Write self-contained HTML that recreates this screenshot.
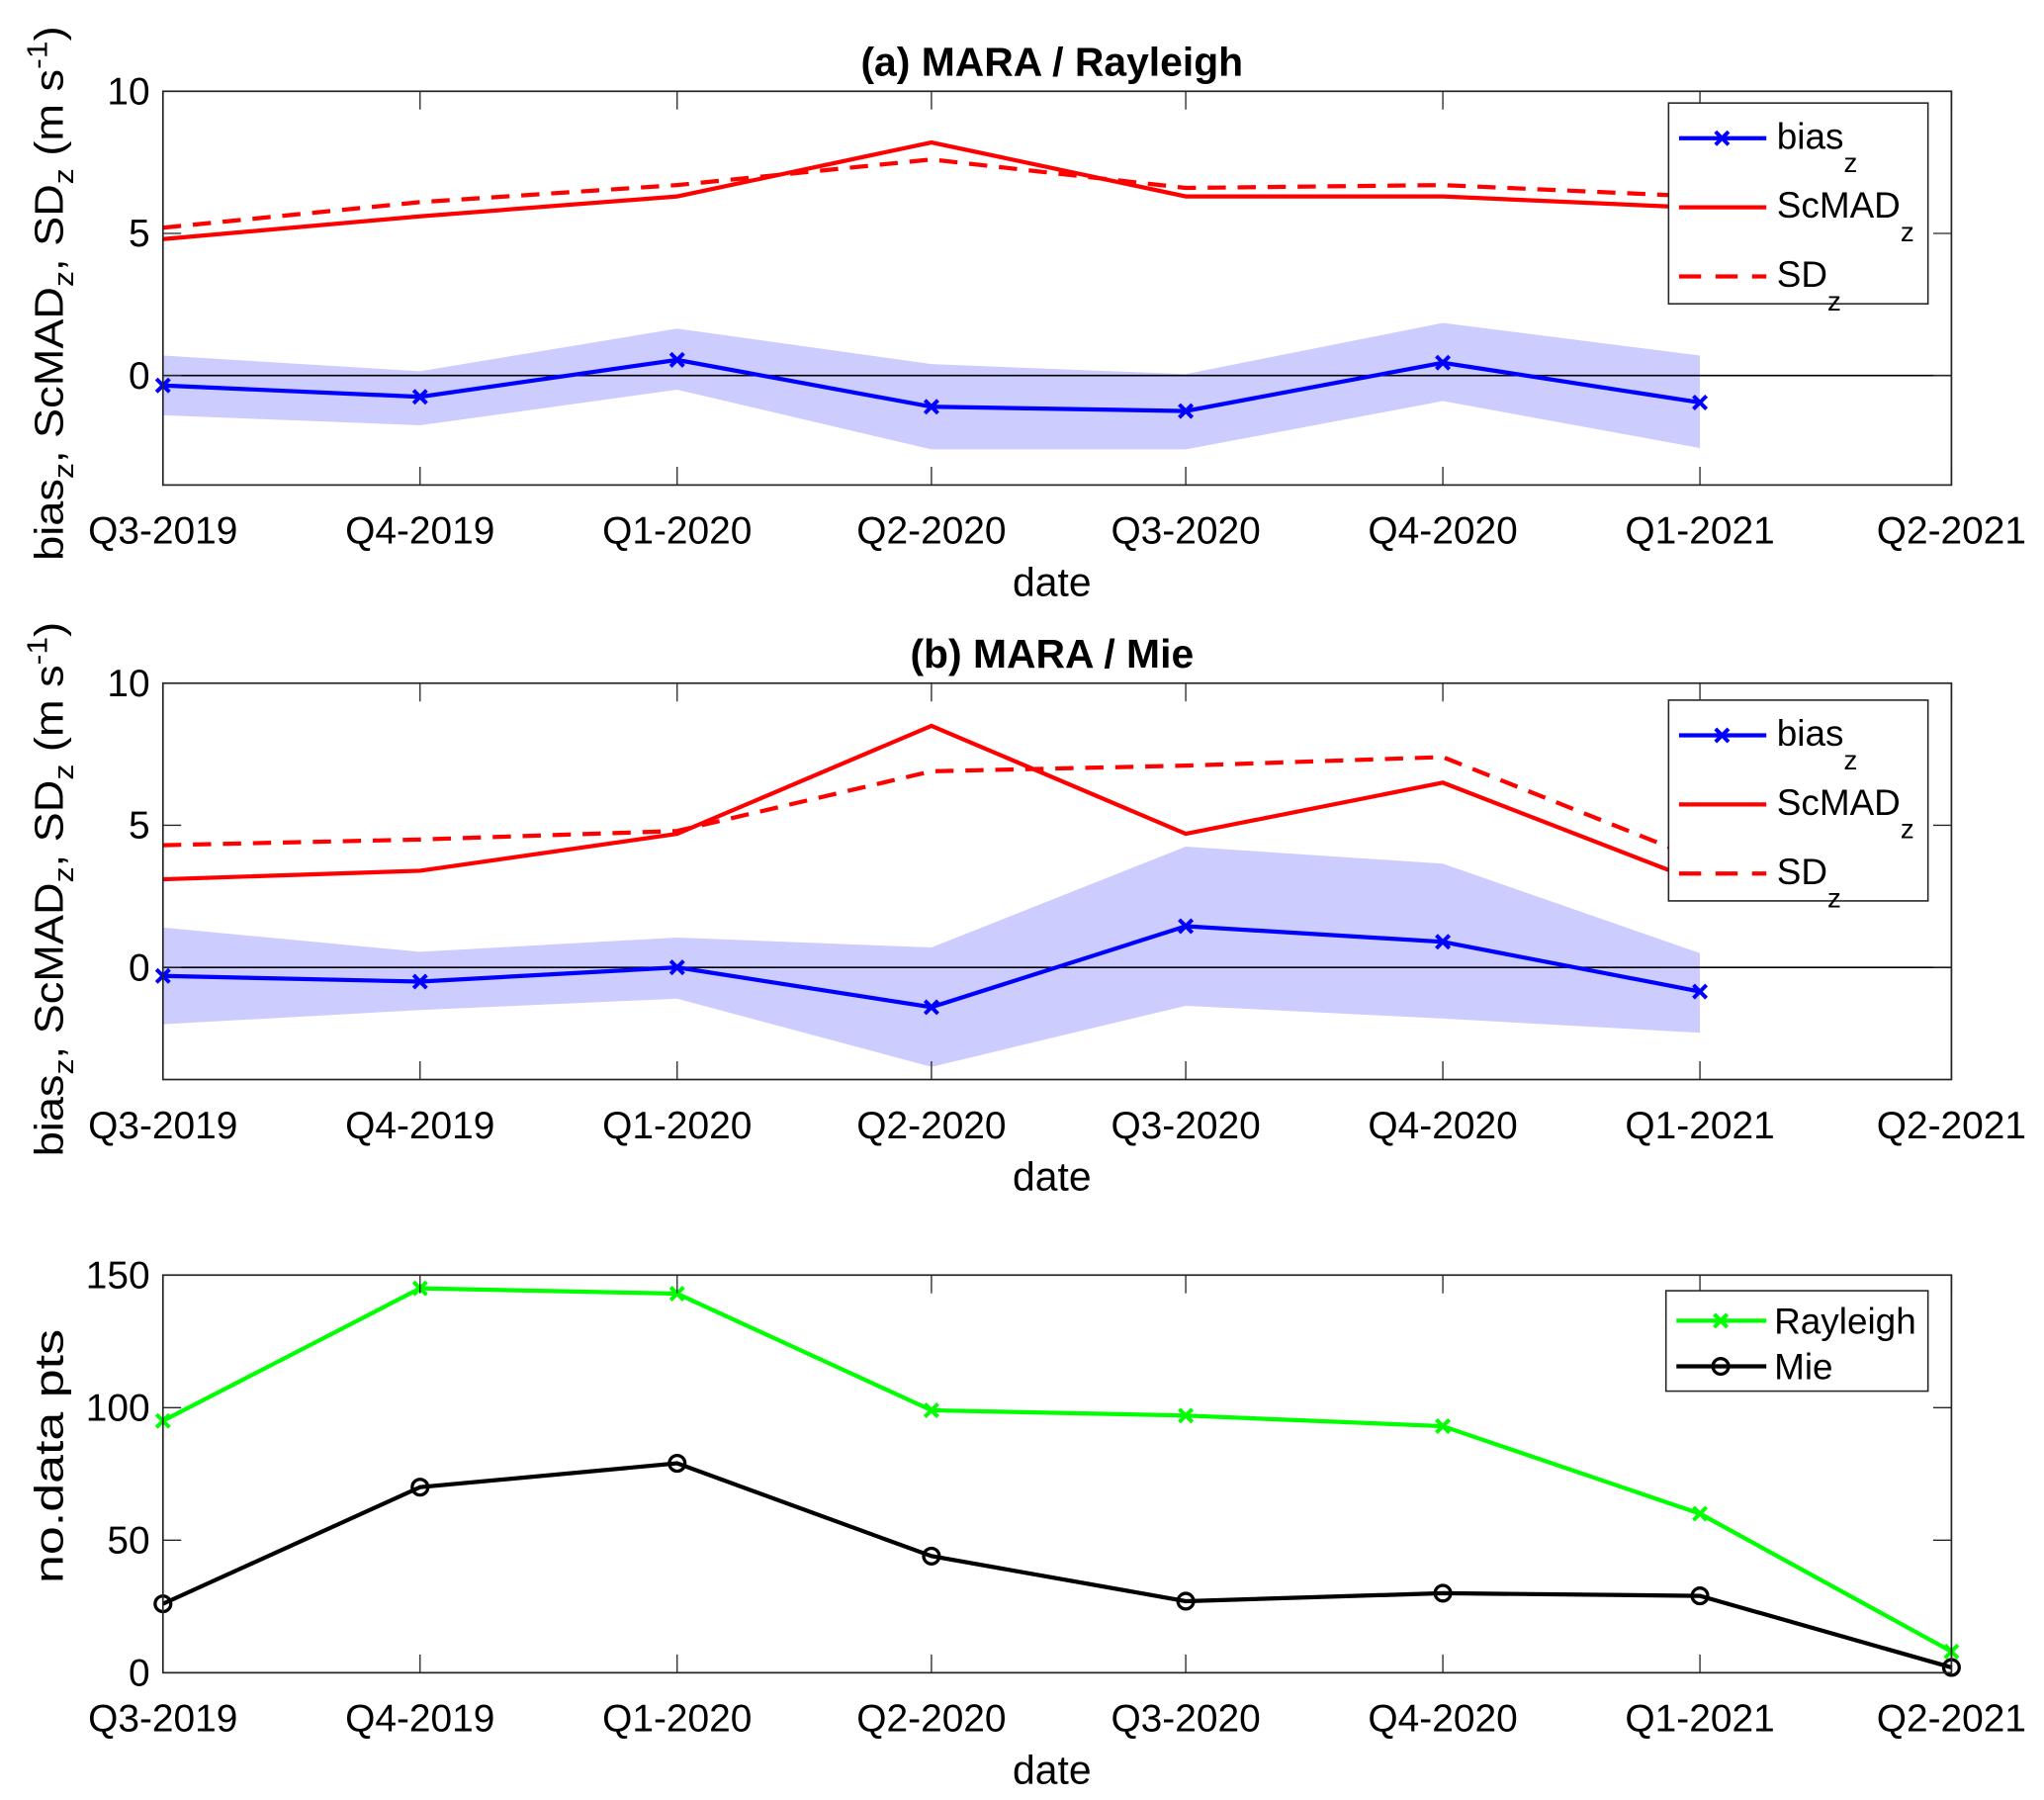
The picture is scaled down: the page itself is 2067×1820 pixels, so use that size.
<!DOCTYPE html>
<html><head><meta charset="utf-8"><style>
html,body{margin:0;padding:0;background:#fff}
svg{display:block}
text{font-family:"Liberation Sans",Arial,sans-serif;fill:#000}
</style></head><body>
<svg id="fig" width="2067" height="1820" viewBox="0 0 1568 1380.6" xmlns="http://www.w3.org/2000/svg"></svg>
<script>
const quarterLabels=["Q3-2019","Q4-2019","Q1-2020","Q2-2020","Q3-2020","Q4-2020","Q1-2021","Q2-2021"];
const quarterDays=[0,92,184,275,366,458,550,640];
// panel a
const aBias=[-0.35,-0.75,0.55,-1.1,-1.25,0.45,-0.95];
const aUpper=[0.7,0.15,1.65,0.4,0.05,1.85,0.7];
const aLower=[-1.4,-1.75,-0.5,-2.6,-2.6,-0.9,-2.55];
const aScMAD=[4.8,5.6,6.3,8.2,6.3,6.3,5.9];
const aSD=[5.2,6.1,6.7,7.6,6.6,6.7,6.3];
// panel b
const bBias=[-0.3,-0.5,0,-1.4,1.45,0.9,-0.85];
const bUpper=[1.4,0.55,1.05,0.7,4.25,3.65,0.5];
const bLower=[-2.0,-1.5,-1.1,-3.5,-1.35,-1.8,-2.3];
const bScMAD=[3.1,3.4,4.7,8.5,4.7,6.5,3.0];
const bSD=[4.3,4.5,4.8,6.9,7.1,7.4,3.8];
// panel c
const cRayleigh=[95,145,143,99,97,93,60,8];
const cMie=[26,70,79,44,27,30,29,2];
const abTicks=[0,5,10];
const cTicks=[0,50,100,150];

const NS="http://www.w3.org/2000/svg";
const svg=document.getElementById('fig');
function mk(tag,attrs,parent){const e=document.createElementNS(NS,tag);for(const k in attrs)e.setAttribute(k,attrs[k]);(parent||svg).appendChild(e);return e;}
const X0=125,X1=1497;
const xs=d=>X0+(d/640)*(X1-X0);

function panel(name,top,bottom){
  const g=mk('g',{});
  
  
  return {g,top,bottom};
}
function axes(p,yticks,ytickLabels,title){
  const g=p.g;
  const frame=mk('rect',{x:X0,y:p.top,width:X1-X0,height:p.bottom-p.top,fill:'none',stroke:'#262626','stroke-width':1.3},g);
  
  
  quarterDays.forEach((d,i)=>{
    const x=xs(d);
    mk('line',{x1:x,y1:p.bottom,x2:x,y2:p.bottom-14,stroke:'#262626','stroke-width':1},g);
    mk('line',{x1:x,y1:p.top,x2:x,y2:p.top+14,stroke:'#262626','stroke-width':1},g);
    const t=mk('text',{x:x,y:p.bottom+45,'font-size':29.5,'text-anchor':'middle'},g);
    t.textContent=quarterLabels[i];
    
    
  });
  yticks.forEach((v,i)=>{
    const y=p.ys(v);
    mk('line',{x1:X0,y1:y,x2:X0+14,y2:y,stroke:'#262626','stroke-width':1},g);
    mk('line',{x1:X1,y1:y,x2:X1-14,y2:y,stroke:'#262626','stroke-width':1},g);
    const t=mk('text',{x:X0-10,y:y+10,'font-size':29.5,'text-anchor':'end'},g);
    t.textContent=ytickLabels[i];
    
    
  });
  const xl=mk('text',{x:807,y:p.bottom+85,'font-size':31,'text-anchor':'middle'},g);
  xl.textContent='date';
  
  
  if(title){
    const tt=mk('text',{x:807,y:p.top-12,'font-size':31,'font-weight':'bold','text-anchor':'middle'},g);
    tt.textContent=title;
    
    
  }
}
function polyline(g,xsArr,vals,ys,attrs,name){
  const pts=vals.map((v,i)=>xs(xsArr[i])+','+ys(v)).join(' ');
  const l=mk('polyline',Object.assign({points:pts,fill:'none'},attrs),g);
  
  
  return l;
}
function xmarker(g,x,y,col){
  const m=mk('path',{d:`M${x-5},${y-5}L${x+5},${y+5}M${x-5},${y+5}L${x+5},${y-5}`,stroke:col,'stroke-width':3},g);
  
  
}
function omarker(g,x,y){
  const m=mk('circle',{cx:x,cy:y,r:6,fill:'none',stroke:'#000','stroke-width':2.5},g);
  
  
}
function ylab(g,x,y,parts,len){
  const t=mk('text',{transform:`translate(${x},${y}) rotate(-90)`,'font-size':31,'text-anchor':'middle',textLength:len,lengthAdjust:'spacingAndGlyphs'},g);
  
  
  parts.forEach(([s,dy,sub])=>{const ts=mk('tspan',{dy:dy,'font-size':sub?22:31},t);ts.textContent=s;});
}
function biasPanel(name,top,bottom,bias,up,lo,scmad,sd,title,legTop,ylY){
  const per=218/10;
  const y0=top+10*per;
  const p=panel(name,top,bottom);
  p.ys=v=>y0-v*per;
  const g=p.g;
  const d7=quarterDays.slice(0,7);
  const band=d7.map((d,i)=>xs(d)+','+p.ys(up[i])).concat(d7.slice().reverse().map((d,j)=>xs(d)+','+p.ys(lo[6-j])));
  const b=mk('polygon',{points:band.join(' '),fill:'#ccccff'},g);
  
  
  const zl=mk('line',{x1:X0,y1:p.ys(0),x2:X1,y2:p.ys(0),stroke:'#000','stroke-width':1.2},g);
  
  
  polyline(g,d7,scmad,p.ys,{stroke:'#ff0000','stroke-width':3.2},'scmad-line');
  polyline(g,d7,sd,p.ys,{stroke:'#ff0000','stroke-width':3.2,'stroke-dasharray':'14,9'},'sd-line');
  polyline(g,d7,bias,p.ys,{stroke:'#0000ff','stroke-width':3.2},'bias-line');
  bias.forEach((v,i)=>xmarker(g,xs(d7[i]),p.ys(v),'#0000ff'));
  axes(p,abTicks,['0','5','10'],title);
  const lg=mk('g',{},g);
  
  
  mk('rect',{x:1280,y:legTop,width:199,height:154,fill:'#fff',stroke:'#262626','stroke-width':1.2},lg);
  const rows=[['bias','#0000ff',null,true],['ScMAD','#ff0000',null,false],['SD','#ff0000','14,9',false]];
  rows.forEach((r,i)=>{
    const y=legTop+27+i*53;
    const e=mk('g',{},lg);
    
    
    const a={x1:1288,y1:y,x2:1355,y2:y,stroke:r[1],'stroke-width':3.2};
    if(r[2])a['stroke-dasharray']='17,11';
    mk('line',a,e);
    if(r[3])xmarker(e,1321,y,'#0000ff');
    const t=mk('text',{x:1363,y:y+8,'font-size':28},e);
    const t1=mk('tspan',{},t);t1.textContent=r[0];
    const t2=mk('tspan',{dy:18,'font-size':21},t);t2.textContent='z';
  });
  ylab(g,48,ylY,[['bias',0,0],['z',8,1],[', ScMAD',-8,0],['z',8,1],[', SD',-8,0],['z',8,1],[' (m s',-8,0],['-1',-12,1],[')',12,0]],410);
}
biasPanel('panel-a-rayleigh',70,372,aBias,aUpper,aLower,aScMAD,aSD,'(a) MARA / Rayleigh',79,225);
biasPanel('panel-b-mie',524,828,bBias,bUpper,bLower,bScMAD,bSD,'(b) MARA / Mie',537,682);

(function(){
  const top=978,bottom=1283;
  const p=panel('panel-c-data-points',top,bottom);
  p.ys=v=>bottom-v/150*(bottom-top);
  const g=p.g;
  polyline(g,quarterDays,cRayleigh,p.ys,{stroke:'#00ff00','stroke-width':3.2},'rayleigh-line');
  cRayleigh.forEach((v,i)=>xmarker(g,xs(quarterDays[i]),p.ys(v),'#00ff00'));
  polyline(g,quarterDays,cMie,p.ys,{stroke:'#000','stroke-width':3.2},'mie-line');
  cMie.forEach((v,i)=>omarker(g,xs(quarterDays[i]),p.ys(v)));
  axes(p,cTicks,['0','50','100','150'],null);
  const lg=mk('g',{},g);
  
  
  mk('rect',{x:1278,y:990,width:201,height:77,fill:'#fff',stroke:'#262626','stroke-width':1.2},lg);
  [['Rayleigh','#00ff00'],['Mie','#000']].forEach((r,i)=>{
    const y=1013+i*35;
    const e=mk('g',{},lg);
    
    
    mk('line',{x1:1286,y1:y,x2:1355,y2:y,stroke:r[1],'stroke-width':3.2},e);
    if(i===0)xmarker(e,1320,y,'#00ff00');else omarker(e,1320,y);
    const t=mk('text',{x:1361,y:y+10,'font-size':28},e);t.textContent=r[0];
  });
  ylab(g,48,1117,[['no.data pts',0,0]],195);
})();
</script>
</body></html>
